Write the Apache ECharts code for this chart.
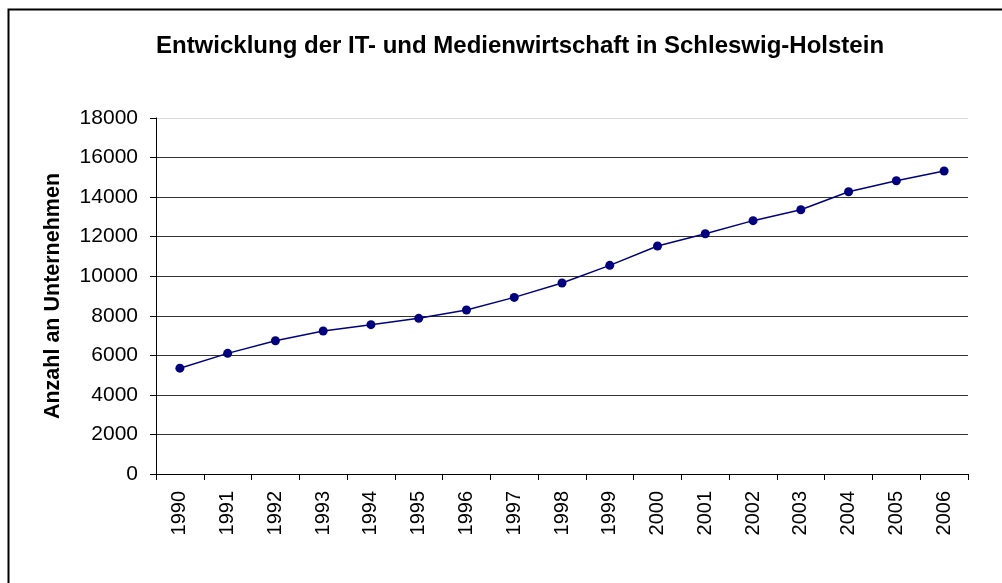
<!DOCTYPE html>
<html lang="de">
<head>
    <meta charset="UTF-8">
    <title>IT- und Medienwirtschaft</title>
    <script type="text/javascript" src="https://cdn.jsdelivr.net/npm/echarts@6/dist/echarts.min.js"></script>
    <style>
        html, body { margin: 0; padding: 0; background: #fff; }
        #chart1 { width: 1002px; height: 583px; }
    </style>
</head>
<body>
<div id="chart1"></div>
<script type="text/javascript">
    // Daten
    var jahre = ['1990', '1991', '1992', '1993', '1994', '1995', '1996', '1997', '1998',
        '1999', '2000', '2001', '2002', '2003', '2004', '2005', '2006'];
    var unternehmen = [5350, 6100, 6740, 7230, 7550, 7870, 8290, 8930, 9660,
        10550, 11530, 12150, 12810, 13360, 14270, 14830, 15320];
    var yMin = 0, yMax = 18000, yStep = 2000;

    var myChart = echarts.init(document.getElementById('chart1'));
    var font = '"Liberation Sans", Arial, sans-serif';

    // Gitterlinien: oberste Linie hellgrau
    var gridColors = [];
    for (var i = 0; i < 9; i++) gridColors.push('#333');
    gridColors.push('#d9d9d9');

    var option = {
        animation: false,
        backgroundColor: '#fff',
        title: {
            text: 'Entwicklung der IT- und Medienwirtschaft in Schleswig-Holstein',
            left: 515,
            top: 29,
            textAlign: 'center',
            textStyle: {
                fontFamily: font,
                fontSize: 24,
                fontWeight: 'bold',
                color: '#000'
            }
        },
        graphic: [{
            type: 'rect',
            shape: {x: 8.5, y: 9.5, width: 1100, height: 700},
            style: {fill: null, stroke: '#000', lineWidth: 2}
        }],
        grid: {
            left: 156,
            right: 34,
            top: 118,
            bottom: 109
        },
        xAxis: {
            type: 'category',
            data: jahre,
            boundaryGap: true,
            axisLine: {lineStyle: {color: '#000', width: 1}},
            axisTick: {show: true, interval: 0, length: 6, lineStyle: {color: '#000'}},
            axisLabel: {
                interval: 0,
                rotate: 90,
                margin: 17,
                color: '#000',
                fontFamily: font,
                fontSize: 20
            }
        },
        yAxis: {
            type: 'value',
            min: yMin,
            max: yMax,
            interval: yStep,
            name: 'Anzahl an Unternehmen',
            nameLocation: 'middle',
            nameGap: 92,
            nameTextStyle: {
                fontFamily: font,
                fontSize: 21.5,
                fontWeight: 'bold',
                color: '#000'
            },
            axisLine: {show: true, lineStyle: {color: '#000', width: 1}},
            axisTick: {show: true, length: 6, lineStyle: {color: '#000'}},
            axisLabel: {
                margin: 18,
                color: '#000',
                fontFamily: font,
                fontSize: 21,
                formatter: function (v) { return String(v); }
            },
            splitLine: {show: true, lineStyle: {color: gridColors, width: 1}}
        },
        series: [{
            name: 'Unternehmen',
            type: 'line',
            data: unternehmen,
            symbol: 'circle',
            symbolSize: 9,
            itemStyle: {color: '#000080'},
            lineStyle: {color: '#000080', width: 1.5}
        }]
    };
    myChart.setOption(option);
</script>
</body>
</html>
